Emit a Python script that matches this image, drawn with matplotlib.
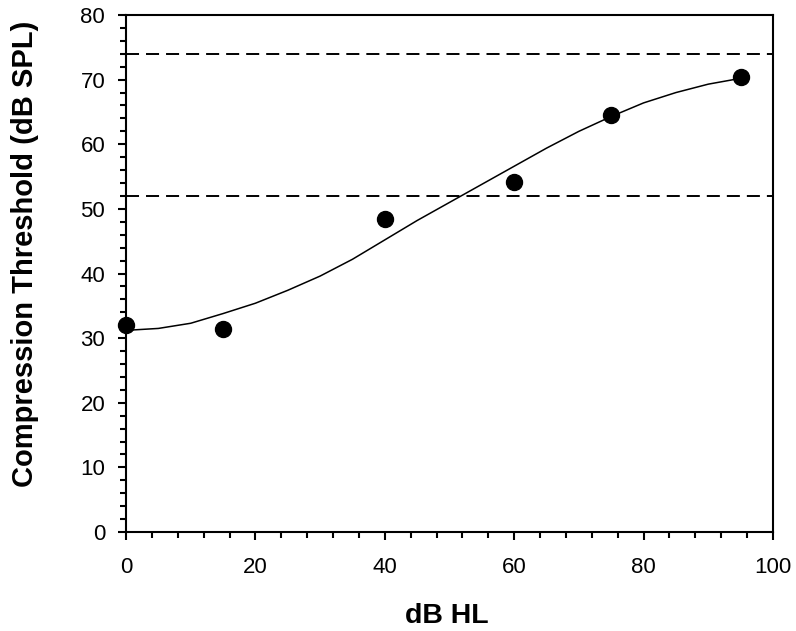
import matplotlib
matplotlib.use("Agg")
import matplotlib.pyplot as plt
from matplotlib.ticker import MultipleLocator

# Data
hl = [0, 15, 40, 60, 75, 95]
ct = [32.0, 31.4, 48.4, 54.1, 64.5, 70.4]

curve_x = [0, 5, 10, 15, 20, 25, 30, 35, 40, 45, 50, 55, 60, 65, 70, 75, 80, 85, 90, 95]
curve_y = [31.2, 31.5, 32.3, 33.8, 35.4, 37.4, 39.6, 42.2, 45.2, 48.2, 51.0, 53.8,
           56.6, 59.4, 62.0, 64.3, 66.4, 68.0, 69.3, 70.2]

ref_levels = [52.0, 74.0]

x_ticks = [0, 20, 40, 60, 80, 100]
y_ticks = [0, 10, 20, 30, 40, 50, 60, 70, 80]

plt.rcParams['font.family'] = ['Liberation Sans', 'DejaVu Sans']

fig = plt.figure(figsize=(7.96, 6.31), dpi=100)
ax = fig.add_axes([126/796, 1-532/631, (773-126)/796, (532-15)/631])

for lvl in ref_levels:
    ax.axhline(lvl, color='black', lw=1.4, dashes=(6.7, 3.6), zorder=1)

ax.plot(curve_x, curve_y, color='black', lw=1.1, zorder=2)
ax.plot(hl, ct, 'o', color='black', ms=11.5, zorder=3, clip_on=False)

ax.set_xlim(0, 100)
ax.set_ylim(0, 80)
ax.set_xticks(x_ticks)
ax.set_yticks(y_ticks)
ax.xaxis.set_minor_locator(MultipleLocator(4))
ax.yaxis.set_minor_locator(MultipleLocator(2))

for s in ax.spines.values():
    s.set_linewidth(1.5)

ax.tick_params(which='major', direction='out', length=6, width=1.5, labelsize=16, pad=9)
ax.tick_params(which='minor', direction='out', length=4, width=1.5)
ax.tick_params(axis='x', which='major', pad=12)

ax.set_xlabel('dB HL', fontsize=20.5, fontweight='bold')
ax.set_ylabel('Compression Threshold (dB SPL)', fontsize=21, fontweight='bold')
ax.xaxis.set_label_coords(0.496, -0.138)
ax.yaxis.set_label_coords(-0.135, 0.538)

fig.savefig('out.png', dpi=100)
